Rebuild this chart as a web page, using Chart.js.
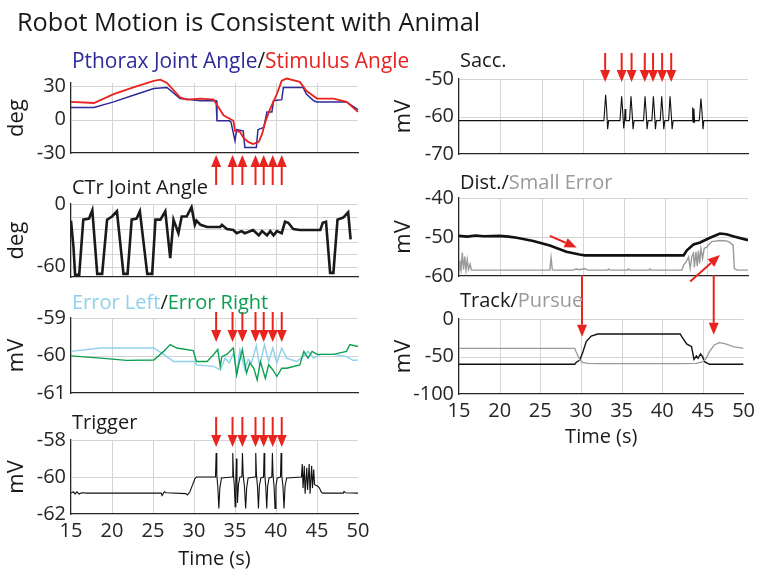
<!DOCTYPE html>
<html lang="en">
<head>
<meta charset="UTF-8">
<title>Robot Motion is Consistent with Animal</title>
<script src="https://cdn.jsdelivr.net/npm/chart.js"></script>
<style>
 body { margin: 0; background: #fff; font-family: "Open Sans", sans-serif; }
 #wrap { position: relative; width: 760px; height: 572px; overflow: hidden; }
 #wrap canvas { position: absolute; left: 0; top: 0; }
 .t { position: absolute; white-space: nowrap; font-size: 20px; line-height: 20px; color: #1a1a1a; }
 .main { font-size: 25.3px; line-height: 25px; }
</style>
</head>
<body>
<div id="wrap">
 <canvas id="c1" width="760" height="572"></canvas>
 <canvas id="c2" width="760" height="572"></canvas>
 <canvas id="c3" width="760" height="572"></canvas>
 <canvas id="c4" width="760" height="572"></canvas>
 <canvas id="c5" width="760" height="572"></canvas>
 <canvas id="c6" width="760" height="572"></canvas>
 <canvas id="c7" width="760" height="572"></canvas>

 <div class="t main" style="left:17px;top:9px">Robot Motion is Consistent with Animal</div>
 <div class="t" style="left:72px;top:50px;font-size:20.9px;line-height:20.9px"><span style="color:#2e2a99">Pthorax Joint Angle</span>/<span style="color:#e8231f">Stimulus Angle</span></div>
 <div class="t" style="left:72px;top:177px">CTr Joint Angle</div>
 <div class="t" style="left:72px;top:292px"><span style="color:#8fd0ec">Error Left</span>/<span style="color:#0aa050">Error Right</span></div>
 <div class="t" style="left:72px;top:412px">Trigger</div>
 <div class="t" style="left:460px;top:50px">Sacc.</div>
 <div class="t" style="left:460px;top:172px">Dist./<span style="color:#9a9a9a">Small Error</span></div>
 <div class="t" style="left:460px;top:290px">Track/<span style="color:#9a9a9a">Pursue</span></div>
</div>

<script>
// time axis and the red stimulus arrows (s)
const timeTicks = [15, 20, 25, 30, 35, 40, 45, 50];
const arrowTimes = [32.7, 34.7, 35.9, 37.5, 38.5, 39.6, 40.7];

// [time s, value]
const stimulusAngle = [[15,16],[17.8,15],[20.2,23],[22.6,29],[25.1,35],[25.9,36],[26.7,33],[28.3,20],[29.1,18],[30.8,19],[32.4,18],[33.0,11],[33.6,4],[34.8,-1],[35.0,-10],[35.6,-11],[36.0,-16],[36.6,-20],[37.2,-22],[37.9,-20],[38.3,-13],[38.7,-2],[39.3,10],[40.1,23],[40.7,35],[41.3,37],[42.9,34],[43.7,26],[45.0,19],[47,19],[48.6,16],[50,7]];
const pthoraxAngle = [[15,11],[17.8,11],[20.2,16],[22.6,22],[25.1,28],[26.7,29],[28.3,19],[30.8,17],[32.7,17],[32.8,-1],[34.3,-1],[34.5,-2],[35.0,-19],[35.2,-9],[36.0,-10],[36.2,-25],[37.6,-25],[37.8,-9],[38.5,-7],[38.9,7],[39.5,7],[39.7,17],[40.7,18],[40.9,29],[43.3,29],[43.7,23],[44.6,17],[45.0,16],[48.6,16],[50,9]];

const ctrAngle = [[15,-16],[15.3,-41],[15.5,-68],[16.0,-68],[16.5,-15],[17.2,-14],[17.6,-6],[18.2,-67],[18.8,-67],[19.4,-15],[20.0,-12],[20.6,-7],[21.4,-67],[21.9,-67],[22.4,-15],[23.0,-14],[23.4,-7],[24.3,-67],[24.9,-67],[25.3,-15],[25.9,-15],[26.5,-7],[27.1,-52],[27.5,-15],[28.1,-28],[28.5,-12],[29.1,-12],[29.7,-3],[30.1,-20],[30.3,-16],[30.8,-20],[31.6,-22],[33.2,-22],[33.4,-20],[34.0,-24],[34.8,-25],[35.2,-28],[35.8,-26],[36.2,-28],[37.2,-25],[37.9,-30],[38.3,-26],[38.9,-30],[39.3,-26],[39.7,-30],[40.1,-26],[40.7,-28],[41.1,-17],[41.5,-18],[42.1,-24],[42.9,-25],[45.4,-25],[45.7,-18],[46.1,-17],[46.6,-66],[47.0,-66],[47.5,-15],[48.2,-13],[48.8,-8],[49.1,-34]];

const errorLeft = [[15,-59.89],[18.6,-59.8],[21.8,-59.8],[25.1,-59.8],[26.3,-59.97],[27.5,-60.16],[30.1,-60.16],[30.3,-60.25],[32.4,-60.29],[33.2,-60.38],[33.8,-60.07],[34.3,-60.2],[34.8,-59.94],[35.2,-60.47],[35.6,-59.85],[36.2,-60.38],[36.6,-60.1],[37.0,-60.2],[37.6,-59.74],[38.0,-60.29],[38.6,-59.71],[39.1,-60.16],[39.6,-59.8],[40.1,-60.2],[40.7,-59.8],[41.3,-60.07],[42.5,-60.16],[43.3,-60.03],[43.9,-59.89],[44.6,-60.07],[45.4,-59.97],[47,-59.97],[48.6,-60.03],[49.4,-60.13],[50,-60.12]];
const errorRight = [[15,-60.01],[18.6,-60.07],[21.8,-60.13],[25.1,-60.12],[26.3,-59.89],[27.1,-59.71],[27.9,-59.8],[29.9,-59.87],[30.3,-60.16],[31.6,-60.16],[32.4,-59.97],[32.9,-59.84],[33.2,-60.29],[33.4,-60.03],[34.0,-59.97],[34.6,-59.84],[34.8,-59.8],[35.2,-60.52],[35.5,-60.2],[35.9,-59.84],[36.4,-60.47],[36.8,-60.2],[37.3,-60.34],[37.7,-60.65],[38.1,-60.16],[38.7,-60.61],[39.1,-60.25],[39.6,-60.38],[40.1,-60.56],[40.7,-60.34],[41.3,-60.34],[42.9,-60.25],[43.4,-59.89],[43.9,-60.07],[44.4,-59.89],[45.0,-59.97],[47.0,-59.97],[48.6,-59.89],[49.0,-59.71],[50,-59.76]];

const trigger = [[15,-60.87],[15.3,-60.8],[15.5,-60.92],[15.7,-60.8],[16,-60.92],[16.3,-60.85],[17,-60.87],[26.0,-60.87],[26.1,-61.0],[26.25,-60.9],[26.4,-60.8],[26.6,-60.85],[29.0,-60.9],[29.2,-60.97],[29.5,-60.8],[29.8,-60.45],[30.1,-60.1],[30.3,-60.0],
 [32.62,-60],[32.70,-58.7],[32.78,-59.9],[32.9,-60.5],[33.03,-61.7],[33.15,-60.6],[33.35,-60.05],
 [34.65,-60],[34.73,-58.7],[34.82,-59.9],[34.92,-60.5],[35.02,-61.6],[35.1,-60.3],[35.18,-59.0],[35.24,-60.2],[35.3,-61.4],[35.42,-60.4],[35.6,-60],
 [35.84,-60],[35.91,-58.7],[36.0,-59.9],[36.15,-60.5],[36.3,-61.7],[36.42,-60.6],[36.6,-60.05],
 [37.45,-60],[37.53,-58.7],[37.62,-59.9],[37.74,-60.5],[37.86,-61.7],[37.97,-60.5],[38.15,-60.05],
 [38.48,-60],[38.55,-58.7],[38.63,-59.9],[38.75,-60.5],[38.87,-61.7],[38.98,-60.5],[39.15,-60.05],
 [39.49,-60],[39.56,-58.7],[39.64,-59.9],[39.76,-60.5],[39.88,-61.7],[39.99,-60.5],[40.15,-60.05],
 [40.55,-60],[40.62,-58.7],[40.7,-59.9],[40.85,-60.5],[40.98,-61.7],[41.1,-60.5],[41.3,-60.05],
 [43.1,-60],[43.2,-59.3],[43.3,-60.6],[43.45,-59.4],[43.55,-60.9],[43.75,-59.5],[43.85,-60.7],[44.05,-59.3],[44.15,-60.9],[44.35,-59.4],[44.45,-60.6],[44.6,-59.6],[44.7,-60.4],[44.85,-60.45],[45.1,-60.5],[45.3,-60.6],[45.5,-60.8],[45.7,-60.87],[48.2,-60.87],[48.3,-60.78],[48.45,-60.85],[50,-60.87]];

const saccade = [[15,-61.1],[32.55,-61.1],[32.76,-54.2],[32.88,-58],[33.0,-63.4],[33.12,-61.1],
 [34.5,-61.1],[34.7,-54.6],[34.82,-58.5],[34.95,-63.2],[35.05,-61.1],[35.12,-58],[35.2,-61.1],
 [35.65,-61.1],[35.83,-54.6],[35.95,-58.5],[36.08,-63.4],[36.2,-61.1],
 [37.35,-61.1],[37.53,-54.6],[37.65,-58.5],[37.78,-63.4],[37.9,-61.1],
 [38.36,-61.1],[38.54,-54.6],[38.66,-58.5],[38.79,-63.4],[38.9,-61.1],
 [39.37,-61.1],[39.55,-54.6],[39.67,-58.5],[39.8,-63.4],[39.92,-61.1],
 [40.38,-61.1],[40.56,-54.6],[40.68,-58.5],[40.81,-63.4],[40.93,-61.1],
 [43.25,-61.1],[43.3,-57.6],[43.36,-61.5],[43.45,-57.9],[43.52,-61.4],[43.6,-61.1],
 [44.1,-61.1],[44.3,-55.2],[44.42,-58.5],[44.55,-63.4],[44.65,-61.1],[50,-61.1]];

const distance = [[15,-49.7],[16,-49.9],[17,-49.6],[18,-49.8],[19.9,-49.7],[21,-49.9],[22,-50.2],[24,-51.0],[26,-52.2],[28,-53.8],[29.6,-54.5],[30.25,-54.7],[42.2,-54.7],[42.6,-53.4],[43.4,-51.9],[44.2,-51.4],[45.4,-50.2],[46.6,-49.1],[47.4,-49.3],[48.3,-49.9],[50,-50.8]];
const smallError = [[15,-58.5],[15.1,-56],[15.25,-58.3],[15.4,-54],[15.55,-58.4],[15.7,-55],[15.85,-58.5],[16.0,-55.8],[16.15,-58.3],[16.35,-57],[16.5,-58.5],[26.0,-58.5],[26.15,-55.3],[26.3,-58.4],[26.5,-58.5],[28.8,-58.5],[29.2,-58.2],[29.6,-58.4],[30.2,-58.1],[30.6,-58.5],[33.0,-58.5],[33.1,-58.2],[33.3,-58.5],[35.4,-58.5],[35.5,-58.2],[35.7,-58.5],[38.0,-58.5],[38.1,-58.2],[38.3,-58.5],[42.0,-58.5],[42.2,-57.2],[42.5,-56.4],[42.8,-55.1],[43.0,-58.0],[43.2,-55.0],[43.4,-54.2],[43.5,-57.8],[43.7,-53.8],[43.85,-57.5],[44.0,-53.5],[44.15,-56.8],[44.3,-53.0],[44.5,-55.5],[44.7,-52.9],[45.0,-52.6],[45.2,-52.1],[45.6,-51.2],[46.6,-50.9],[47.4,-51.0],[47.8,-51.4],[48.2,-52.1],[48.35,-58.1],[48.7,-58.5],[50,-58.5]];

const track = [[15,-60.4],[29.24,-60.4],[29.4,-58],[29.86,-54.7],[30.25,-43.6],[30.65,-30.2],[31.26,-22.7],[32.07,-20],[42.2,-20],[42.4,-23.6],[43.0,-33.3],[43.6,-36.9],[43.9,-53.8],[44.2,-49.3],[44.4,-52.4],[44.7,-46.7],[44.96,-50.2],[45.2,-56.9],[45.8,-60.4],[50,-60.4]];
const pursue = [[15,-39.1],[29.24,-39.1],[29.4,-43.6],[29.86,-54.7],[30.2,-57.8],[30.85,-59.1],[32.07,-59.6],[42.2,-59.6],[44.2,-59.1],[45.0,-56.9],[45.4,-52.4],[45.8,-43.6],[46.4,-34.7],[47.0,-31.6],[47.8,-33.3],[48.7,-36.9],[50,-39.1]];

const textColor = '#262626';
const axisColor = '#262626';
const gridColor = 'rgb(212,212,212)';
const red = '#e8241e';
Chart.defaults.font.family = '"Open Sans", sans-serif';

const pts = a => a.map(([x, y]) => ({x, y}));
const line = (data, color, width, extra) => Object.assign({data: pts(data), borderColor: color, borderWidth: width, pointRadius: 0, tension: 0, fill: false}, extra || {});

// light grid at the scale ticks, drawn just before the data (no line at t = 15 and 50)
const gridLines = {
  id: 'gridLines',
  beforeDatasetsDraw(chart) {
    const ctx = chart.ctx, a = chart.chartArea, xs = chart.scales.x, ys = chart.scales.y;
    ctx.save();
    ctx.strokeStyle = gridColor;
    ctx.lineWidth = 1;
    timeTicks.forEach(v => {
      if (v <= xs.min || v >= xs.max) return;
      const px = Math.round(xs.getPixelForValue(v)) + 0.5;
      ctx.beginPath(); ctx.moveTo(px, a.top); ctx.lineTo(px, a.bottom - 1); ctx.stroke();
    });
    ys.ticks.forEach(t => {
      if (t.value <= ys.min) return;
      const py = Math.round(ys.getPixelForValue(t.value)) + 0.5;
      ctx.beginPath(); ctx.moveTo(a.left + 1, py); ctx.lineTo(a.right, py); ctx.stroke();
    });
    ctx.restore();
  }
};

function drawArrow(ctx, x1, y1, x2, y2) {
  const a = Math.atan2(y2 - y1, x2 - x1), hl = 12, hw = 5;
  const bx = x2 - hl * Math.cos(a), by = y2 - hl * Math.sin(a);
  ctx.beginPath(); ctx.moveTo(x1, y1); ctx.lineTo(bx, by); ctx.stroke();
  ctx.beginPath(); ctx.moveTo(x2, y2);
  ctx.lineTo(bx + hw * Math.sin(a), by - hw * Math.cos(a));
  ctx.lineTo(bx - hw * Math.sin(a), by + hw * Math.cos(a));
  ctx.closePath(); ctx.fill();
}
function arrows(list) {
  return {
    id: 'arrows',
    afterDraw(chart) {
      const ctx = chart.ctx;
      ctx.save();
      ctx.strokeStyle = red; ctx.fillStyle = red; ctx.lineWidth = 2;
      list(chart).forEach(a => drawArrow(ctx, a[0], a[1], a[2], a[3]));
      ctx.restore();
    }
  };
}
// arrows at the stimulus times, tip at a y value, pointing down
const downRow = (tip, len) => arrows(c => arrowTimes.map(t => {
  const x = c.scales.x.getPixelForValue(t), y = c.scales.y.getPixelForValue(tip);
  return [x, y - len, x, y];
}));

// box: plot area in page pixels
function panel(id, box, ymin, ymax, yTicks, yLabels, yTitle, datasets, plugin) {
  const xh = box.timeAxis ? box.xh : 10;
  return new Chart(document.getElementById(id), {
    type: 'line',
    data: {datasets},
    options: {
      responsive: false, animation: false, events: [],
      layout: {autoPadding: false, padding: {left: box.x0 - box.yw, right: 760 - box.x1, top: box.top, bottom: 572 - box.bottom - xh}},
      plugins: {legend: {display: false}, tooltip: {enabled: false}},
      scales: {
        x: {
          type: 'linear', min: 15, max: 50,
          afterBuildTicks: s => { s.ticks = timeTicks.map(v => ({value: v})); },
          afterFit: s => { s.height = xh; },
          grid: {display: false, drawTicks: false},
          border: {display: true, color: axisColor, width: 1.3},
          ticks: {display: !!box.timeAxis, autoSkip: false, padding: 5, font: {size: 20}, color: textColor, maxRotation: 0},
          title: {display: !!box.timeAxis, text: 'Time (s)', font: {size: 20}, color: '#1a1a1a', padding: {top: 4, bottom: 4}}
        },
        y: {
          type: 'linear', min: ymin, max: ymax,
          afterBuildTicks: s => { s.ticks = yTicks.map(v => ({value: v})); },
          afterFit: s => { s.width = box.yw; },
          grid: {display: false, drawTicks: false},
          border: {display: true, color: axisColor, width: 1.3},
          ticks: {autoSkip: false, padding: 5, font: {size: 20}, color: textColor, callback: v => yLabels.includes(v) ? String(v) : ''},
          title: {display: true, text: yTitle, font: {size: 22}, color: '#1a1a1a', padding: {top: 3, bottom: 3}}
        }
      }
    },
    plugins: plugin ? [gridLines, plugin] : [gridLines]
  });
}

const L = {x0: 71, x1: 358, yw: 70};
const R = {x0: 459, x1: 748, yw: 71};

panel('c1', Object.assign({top: 83, bottom: 153}, L), -30, 33, [-30, 0, 30], [-30, 0, 30], 'deg',
  [line(stimulusAngle, '#e8231f', 1.8, {clip: false}), line(pthoraxAngle, '#2e2a99', 1.5, {clip: false})],
  arrows(c => arrowTimes.map(t => {
    const x = c.scales.x.getPixelForValue(t), b = c.chartArea.bottom;
    return [x, b + 32, x, b + 2];
  })));

panel('c2', Object.assign({top: 204, bottom: 277}, L), -70, 0, [-60, -48, -36, -24, -12, 0], [-60, 0], 'deg',
  [line(ctrAngle, '#1a1a1a', 2.6)]);

panel('c3', Object.assign({top: 318, bottom: 393}, L), -61, -59, [-61, -60, -59], [-61, -60, -59], 'mV',
  [line(errorRight, '#0aa050', 1.4), line(errorLeft, '#8fd0ec', 1.4)],
  downRow(-59.64, 30));

panel('c4', Object.assign({top: 440, bottom: 514, timeAxis: true, xh: 61}, L), -62, -58, [-62, -60, -58], [-62, -60, -58], 'mV',
  [line(trigger, '#111', 1.1)],
  downRow(-58.38, 30));

panel('c5', Object.assign({top: 79, bottom: 154}, R), -70, -50, [-70, -60, -50], [-70, -60, -50], 'mV',
  [line(saccade, '#111', 1.1)],
  downRow(-50.8, 29));

panel('c6', Object.assign({top: 198, bottom: 276}, R), -60, -40, [-60, -50, -40], [-60, -50, -40], 'mV',
  [line(distance, '#111', 2.6), line(smallError, '#9a9a9a', 1.4)],
  arrows(c => {
    const x = v => c.scales.x.getPixelForValue(v), y = v => c.scales.y.getPixelForValue(v);
    return [[x(26.0), y(-49.7), x(29.25), y(-52.7)], [x(43.0), y(-61.4), x(46.6), y(-54.6)]];
  }));

panel('c7', Object.assign({top: 319, bottom: 394, timeAxis: true, xh: 59}, R), -100, 0, [-100, -50, 0], [-100, -50, 0], 'mV',
  [line(pursue, '#9a9a9a', 1.3), line(track, '#111', 1.4)],
  arrows(c => {
    const x = v => c.scales.x.getPixelForValue(v), y = v => c.scales.y.getPixelForValue(v);
    const tail = c.chartArea.top - 44;
    return [[x(30.13), tail, x(30.13), y(-23.6)], [x(46.33), tail, x(46.33), y(-21)]];
  }));
</script>
</body>
</html>
